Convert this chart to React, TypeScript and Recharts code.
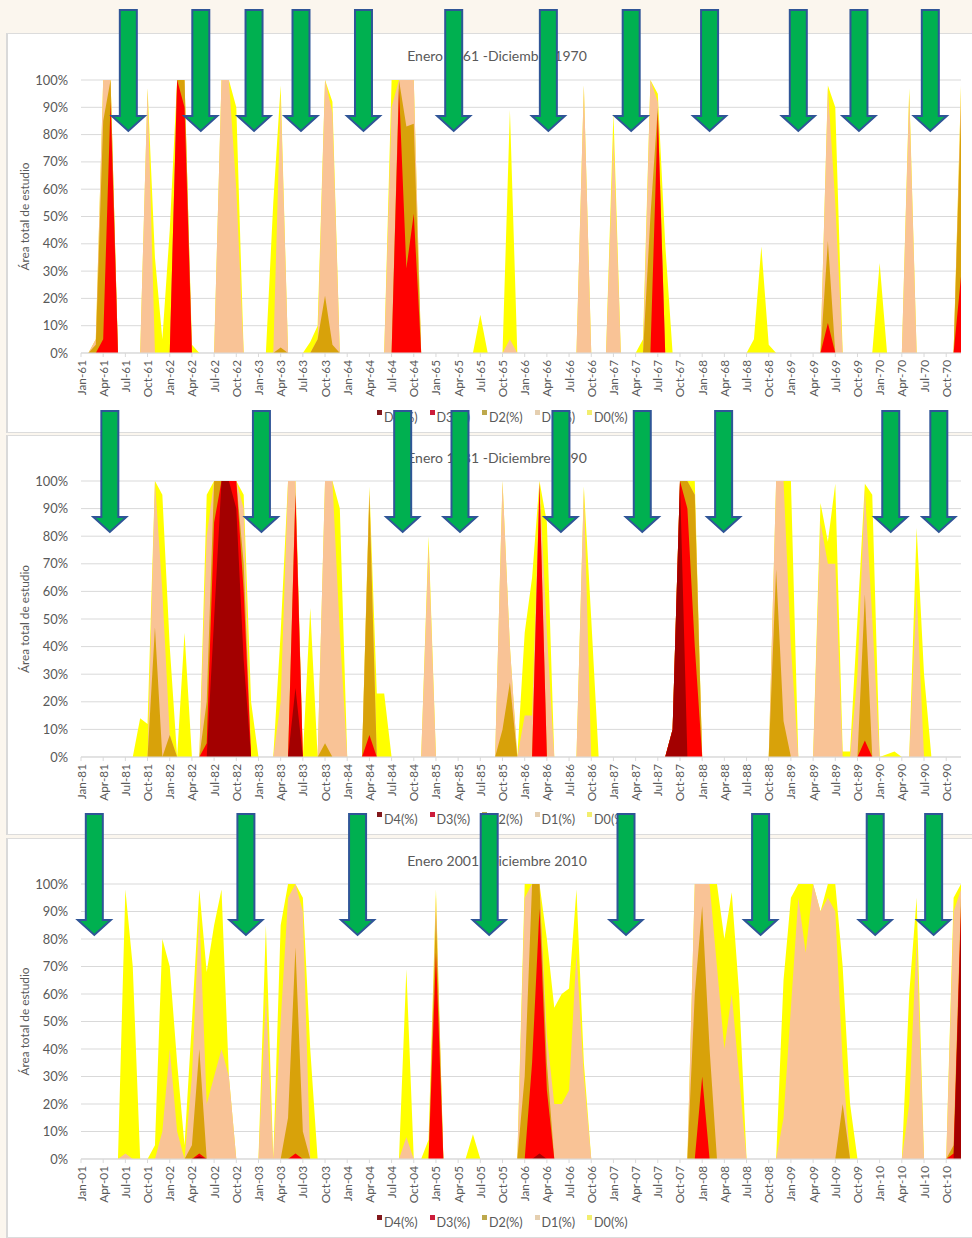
import React from "react";
import { AreaChart, Area, XAxis, YAxis, CartesianGrid, ReferenceDot } from "recharts";

const MONTHS = ["Jan", "Feb", "Mar", "Apr", "May", "Jun", "Jul", "Aug", "Sep", "Oct", "Nov", "Dec"];
const Y_TICKS = [0, 10, 20, 30, 40, 50, 60, 70, 80, 90, 100];

// % del área total en cada categoría o peor (una fila por año, Jan..Dec)

// 1961-1970
const P1_D0 = [
  0, 0, 5, 100, 100, 0, 0, 0, 0, 97, 35, 5,
  45, 100, 100, 3, 0, 0, 0, 100, 100, 90, 0, 0,
  0, 0, 55, 98, 0, 0, 0, 4, 10, 100, 92, 0,
  0, 0, 0, 0, 0, 0, 100, 100, 100, 100, 0, 0,
  0, 0, 0, 0, 0, 0, 14, 0, 0, 0, 89, 0,
  0, 0, 0, 0, 0, 0, 0, 0, 98, 0, 0, 0,
  88, 0, 0, 0, 5, 100, 95, 40, 0, 0, 0, 0,
  0, 0, 0, 0, 0, 0, 0, 5, 39, 3, 0, 0,
  0, 0, 0, 0, 0, 98, 90, 0, 0, 0, 0, 0,
  33, 0, 0, 0, 97, 0, 0, 0, 0, 0, 0, 98,
];
const P1_D1 = [
  0, 0, 5, 100, 100, 0, 0, 0, 0, 97, 0, 0,
  0, 100, 100, 0, 0, 0, 0, 100, 100, 60, 0, 0,
  0, 0, 0, 95, 0, 0, 0, 0, 5, 100, 88, 0,
  0, 0, 0, 0, 0, 0, 90, 100, 100, 100, 0, 0,
  0, 0, 0, 0, 0, 0, 0, 0, 0, 0, 5, 0,
  0, 0, 0, 0, 0, 0, 0, 0, 98, 0, 0, 0,
  80, 0, 0, 0, 0, 100, 92, 0, 0, 0, 0, 0,
  0, 0, 0, 0, 0, 0, 0, 0, 0, 0, 0, 0,
  0, 0, 0, 0, 0, 97, 55, 0, 0, 0, 0, 0,
  0, 0, 0, 0, 95, 0, 0, 0, 0, 0, 0, 97,
];
const P1_D2 = [
  0, 0, 3, 85, 100, 0, 0, 0, 0, 0, 0, 0,
  0, 100, 100, 0, 0, 0, 0, 0, 0, 0, 0, 0,
  0, 0, 0, 2, 0, 0, 0, 0, 5, 21, 3, 0,
  0, 0, 0, 0, 0, 0, 0, 100, 83, 84, 0, 0,
  0, 0, 0, 0, 0, 0, 0, 0, 0, 0, 0, 0,
  0, 0, 0, 0, 0, 0, 0, 0, 0, 0, 0, 0,
  0, 0, 0, 0, 0, 50, 90, 0, 0, 0, 0, 0,
  0, 0, 0, 0, 0, 0, 0, 0, 0, 0, 0, 0,
  0, 0, 0, 0, 0, 41, 0, 0, 0, 0, 0, 0,
  0, 0, 0, 0, 0, 0, 0, 0, 0, 0, 0, 90,
];
const P1_D3 = [
  0, 0, 0, 5, 92, 0, 0, 0, 0, 0, 0, 0,
  0, 100, 90, 0, 0, 0, 0, 0, 0, 0, 0, 0,
  0, 0, 0, 0, 0, 0, 0, 0, 0, 0, 0, 0,
  0, 0, 0, 0, 0, 0, 0, 97, 31, 51, 0, 0,
  0, 0, 0, 0, 0, 0, 0, 0, 0, 0, 0, 0,
  0, 0, 0, 0, 0, 0, 0, 0, 0, 0, 0, 0,
  0, 0, 0, 0, 0, 0, 88, 0, 0, 0, 0, 0,
  0, 0, 0, 0, 0, 0, 0, 0, 0, 0, 0, 0,
  0, 0, 0, 0, 0, 11, 0, 0, 0, 0, 0, 0,
  0, 0, 0, 0, 0, 0, 0, 0, 0, 0, 0, 28,
];
const P1_D4 = [
  0, 0, 0, 0, 0, 0, 0, 0, 0, 0, 0, 0,
  0, 0, 0, 0, 0, 0, 0, 0, 0, 0, 0, 0,
  0, 0, 0, 0, 0, 0, 0, 0, 0, 0, 0, 0,
  0, 0, 0, 0, 0, 0, 0, 0, 0, 0, 0, 0,
  0, 0, 0, 0, 0, 0, 0, 0, 0, 0, 0, 0,
  0, 0, 0, 0, 0, 0, 0, 0, 0, 0, 0, 0,
  0, 0, 0, 0, 0, 0, 0, 0, 0, 0, 0, 0,
  0, 0, 0, 0, 0, 0, 0, 0, 0, 0, 0, 0,
  0, 0, 0, 0, 0, 0, 0, 0, 0, 0, 0, 0,
  0, 0, 0, 0, 0, 0, 0, 0, 0, 0, 0, 0,
];

// 1981-1990
const P2_D0 = [
  0, 0, 0, 0, 0, 0, 0, 0, 14, 12, 100, 95,
  40, 0, 45, 0, 0, 95, 100, 100, 100, 100, 95, 20,
  0, 0, 0, 45, 100, 100, 0, 54, 0, 100, 100, 90,
  0, 0, 0, 98, 23, 23, 0, 0, 0, 0, 0, 80,
  0, 0, 0, 0, 0, 0, 0, 0, 0, 100, 40, 0,
  45, 65, 100, 85, 0, 0, 0, 0, 98, 50, 0, 0,
  0, 0, 0, 0, 0, 0, 0, 0, 10, 100, 100, 100,
  0, 0, 0, 0, 0, 0, 0, 0, 0, 0, 100, 100,
  100, 0, 0, 0, 92, 78, 99, 2, 2, 50, 99, 95,
  0, 1, 2, 0, 0, 83, 30, 0, 0, 0, 0, 0,
];
const P2_D1 = [
  0, 0, 0, 0, 0, 0, 0, 0, 0, 0, 100, 60,
  8, 0, 0, 0, 0, 80, 100, 100, 100, 100, 90, 0,
  0, 0, 0, 20, 100, 100, 0, 0, 0, 100, 100, 45,
  0, 0, 0, 97, 0, 0, 0, 0, 0, 0, 0, 77,
  0, 0, 0, 0, 0, 0, 0, 0, 0, 100, 40, 0,
  15, 15, 100, 45, 0, 0, 0, 0, 97, 0, 0, 0,
  0, 0, 0, 0, 0, 0, 0, 0, 10, 100, 100, 95,
  0, 0, 0, 0, 0, 0, 0, 0, 0, 0, 100, 100,
  40, 0, 0, 0, 85, 70, 70, 0, 0, 30, 97, 50,
  0, 0, 0, 0, 0, 60, 0, 0, 0, 0, 0, 0,
];
const P2_D2 = [
  0, 0, 0, 0, 0, 0, 0, 0, 0, 0, 47, 0,
  8, 0, 0, 0, 0, 20, 100, 100, 100, 100, 70, 0,
  0, 0, 0, 0, 0, 96, 0, 0, 0, 5, 0, 0,
  0, 0, 0, 95, 0, 0, 0, 0, 0, 0, 0, 0,
  0, 0, 0, 0, 0, 0, 0, 0, 0, 10, 27, 0,
  0, 0, 99, 0, 0, 0, 0, 0, 0, 0, 0, 0,
  0, 0, 0, 0, 0, 0, 0, 0, 10, 100, 100, 95,
  0, 0, 0, 0, 0, 0, 0, 0, 0, 0, 68, 13,
  0, 0, 0, 0, 0, 0, 0, 0, 0, 0, 59, 0,
  0, 0, 0, 0, 0, 0, 0, 0, 0, 0, 0, 0,
];
const P2_D3 = [
  0, 0, 0, 0, 0, 0, 0, 0, 0, 0, 0, 0,
  0, 0, 0, 0, 0, 5, 85, 100, 100, 100, 60, 0,
  0, 0, 0, 0, 0, 95, 0, 0, 0, 0, 0, 0,
  0, 0, 0, 8, 0, 0, 0, 0, 0, 0, 0, 0,
  0, 0, 0, 0, 0, 0, 0, 0, 0, 0, 0, 0,
  0, 0, 99, 0, 0, 0, 0, 0, 0, 0, 0, 0,
  0, 0, 0, 0, 0, 0, 0, 0, 10, 100, 90, 40,
  0, 0, 0, 0, 0, 0, 0, 0, 0, 0, 0, 0,
  0, 0, 0, 0, 0, 0, 0, 0, 0, 0, 6, 0,
  0, 0, 0, 0, 0, 0, 0, 0, 0, 0, 0, 0,
];
const P2_D4 = [
  0, 0, 0, 0, 0, 0, 0, 0, 0, 0, 0, 0,
  0, 0, 0, 0, 0, 0, 50, 100, 100, 90, 35, 0,
  0, 0, 0, 0, 0, 25, 0, 0, 0, 0, 0, 0,
  0, 0, 0, 0, 0, 0, 0, 0, 0, 0, 0, 0,
  0, 0, 0, 0, 0, 0, 0, 0, 0, 0, 0, 0,
  0, 0, 0, 0, 0, 0, 0, 0, 0, 0, 0, 0,
  0, 0, 0, 0, 0, 0, 0, 0, 10, 100, 0, 0,
  0, 0, 0, 0, 0, 0, 0, 0, 0, 0, 0, 0,
  0, 0, 0, 0, 0, 0, 0, 0, 0, 0, 0, 0,
  0, 0, 0, 0, 0, 0, 0, 0, 0, 0, 0, 0,
];

// 2001-2010
const P3_D0 = [
  0, 0, 0, 0, 0, 0, 98, 70, 0, 0, 5, 80,
  70, 35, 5, 50, 98, 68, 85, 98, 30, 0, 0, 0,
  0, 85, 0, 85, 100, 100, 95, 40, 0, 0, 0, 0,
  0, 0, 0, 0, 0, 0, 0, 0, 69, 0, 0, 7,
  98, 0, 0, 0, 0, 9, 0, 0, 0, 0, 0, 0,
  100, 100, 100, 80, 55, 60, 62, 98, 35, 0, 0, 0,
  0, 0, 0, 0, 0, 0, 0, 0, 0, 0, 0, 100,
  100, 100, 100, 80, 97, 60, 0, 0, 0, 0, 0, 65,
  95, 100, 100, 100, 90, 100, 100, 70, 20, 0, 0, 0,
  0, 0, 0, 0, 60, 95, 0, 0, 0, 0, 95, 100,
];
const P3_D1 = [
  0, 0, 0, 0, 0, 0, 2, 0, 0, 0, 0, 10,
  40, 10, 0, 30, 90, 20, 30, 40, 30, 0, 0, 0,
  0, 60, 0, 50, 95, 100, 90, 0, 0, 0, 0, 0,
  0, 0, 0, 0, 0, 0, 0, 0, 8, 0, 0, 0,
  96, 0, 0, 0, 0, 0, 0, 0, 0, 0, 0, 0,
  95, 100, 100, 45, 20, 20, 25, 75, 30, 0, 0, 0,
  0, 0, 0, 0, 0, 0, 0, 0, 0, 0, 0, 100,
  100, 100, 70, 40, 60, 30, 0, 0, 0, 0, 0, 15,
  55, 95, 75, 100, 90, 95, 90, 35, 0, 0, 0, 0,
  0, 0, 0, 0, 20, 80, 0, 0, 0, 0, 90, 98,
];
const P3_D2 = [
  0, 0, 0, 0, 0, 0, 0, 0, 0, 0, 0, 0,
  0, 0, 0, 5, 40, 0, 0, 0, 0, 0, 0, 0,
  0, 0, 0, 0, 15, 77, 10, 0, 0, 0, 0, 0,
  0, 0, 0, 0, 0, 0, 0, 0, 0, 0, 0, 0,
  90, 0, 0, 0, 0, 0, 0, 0, 0, 0, 0, 0,
  30, 100, 100, 35, 0, 0, 0, 0, 0, 0, 0, 0,
  0, 0, 0, 0, 0, 0, 0, 0, 0, 0, 0, 60,
  92, 40, 0, 0, 0, 0, 0, 0, 0, 0, 0, 0,
  0, 0, 0, 0, 0, 0, 0, 20, 0, 0, 0, 0,
  0, 0, 0, 0, 0, 0, 0, 0, 0, 0, 5, 95,
];
const P3_D3 = [
  0, 0, 0, 0, 0, 0, 0, 0, 0, 0, 0, 0,
  0, 0, 0, 0, 2, 0, 0, 0, 0, 0, 0, 0,
  0, 0, 0, 0, 0, 2, 0, 0, 0, 0, 0, 0,
  0, 0, 0, 0, 0, 0, 0, 0, 0, 0, 0, 0,
  75, 0, 0, 0, 0, 0, 0, 0, 0, 0, 0, 0,
  0, 35, 91, 25, 0, 0, 0, 0, 0, 0, 0, 0,
  0, 0, 0, 0, 0, 0, 0, 0, 0, 0, 0, 0,
  30, 0, 0, 0, 0, 0, 0, 0, 0, 0, 0, 0,
  0, 0, 0, 0, 0, 0, 0, 0, 0, 0, 0, 0,
  0, 0, 0, 0, 0, 0, 0, 0, 0, 0, 2, 92,
];
const P3_D4 = [
  0, 0, 0, 0, 0, 0, 0, 0, 0, 0, 0, 0,
  0, 0, 0, 0, 1, 0, 0, 0, 0, 0, 0, 0,
  0, 0, 0, 0, 0, 0, 0, 0, 0, 0, 0, 0,
  0, 0, 0, 0, 0, 0, 0, 0, 0, 0, 0, 0,
  0, 0, 0, 0, 0, 0, 0, 0, 0, 0, 0, 0,
  0, 0, 2, 0, 0, 0, 0, 0, 0, 0, 0, 0,
  0, 0, 0, 0, 0, 0, 0, 0, 0, 0, 0, 0,
  0, 0, 0, 0, 0, 0, 0, 0, 0, 0, 0, 0,
  0, 0, 0, 0, 0, 0, 0, 0, 0, 0, 0, 0,
  0, 0, 0, 0, 0, 0, 0, 0, 0, 0, 0, 88,
];

// posiciones de las flechas, en meses desde el inicio del periodo
const P1_ARROWS = [6.4, 16.2, 23.4, 29.75, 38.2, 50.4, 63.2, 74.4, 85.0, 97.0, 105.2, 114.85];
const P2_ARROWS = [3.9, 24.4, 43.5, 51.25, 64.9, 75.9, 86.9, 109.5, 116.0];
const P3_ARROWS = [1.8, 22.3, 37.4, 55.2, 73.7, 91.9, 107.4, 115.3];

const SERIES = [
  { key: "d0", name: "D0(%)", fill: "#ffff00", swatch: "#f2ee6e" },
  { key: "d1", name: "D1(%)", fill: "#f9c396", swatch: "#e5cfb0" },
  { key: "d2", name: "D2(%)", fill: "#d8a20a", swatch: "#bda84c" },
  { key: "d3", name: "D3(%)", fill: "#ff0000", swatch: "#cc1c3a" },
  { key: "d4", name: "D4(%)", fill: "#a30000", swatch: "#82181c" },
];
const LEGEND_ORDER = ["d4", "d3", "d2", "d1", "d0"];

const PANELS = [
  { title: "Enero 1961 -Diciembre 1970", from: 1961, top: 33, plotTop: 80, plotBottom: 353, data: [P1_D0, P1_D1, P1_D2, P1_D3, P1_D4], arrows: P1_ARROWS },
  { title: "Enero 1981 -Diciembre 1990", from: 1981, top: 435, plotTop: 481, plotBottom: 757, data: [P2_D0, P2_D1, P2_D2, P2_D3, P2_D4], arrows: P2_ARROWS },
  { title: "Enero 2001 -Diciembre 2010", from: 2001, top: 838, plotTop: 884, plotBottom: 1159, data: [P3_D0, P3_D1, P3_D2, P3_D3, P3_D4], arrows: P3_ARROWS },
];

const W = 972;
const H = 400;
const TEXT = "#595959";

function monthLabels(from: number) {
  const out: string[] = [];
  for (let y = 0; y < 10; y++) {
    const yy = String((from + y) % 100).padStart(2, "0");
    MONTHS.forEach((m) => out.push(`${m}-${yy}`));
  }
  return out;
}

function Arrow(props: any) {
  const { cx, cy } = props;
  const w = 8.5;
  const hw = 16.5;
  const top = cy - 70;
  const neck = cy + 36;
  const tip = cy + 51;
  const d = `M${cx - w},${top}H${cx + w}V${neck}H${cx + hw}L${cx},${tip}L${cx - hw},${neck}H${cx - w}Z`;
  return <path d={d} fill="#00b050" stroke="#2f5597" strokeWidth={2} />;
}

function Chart({ p }: { p: (typeof PANELS)[number] }) {
  const labels = monthLabels(p.from);
  const rows = labels.map((label, i) => ({
    i,
    label,
    d0: p.data[0][i],
    d1: p.data[1][i],
    d2: p.data[2][i],
    d3: p.data[3][i],
    d4: p.data[4][i],
  }));
  const ticks = rows.filter((r) => r.i % 3 === 0).map((r) => r.i);
  const labelY = (p.plotTop + p.plotBottom) / 2 - p.top;

  return (
    <div style={{ position: "absolute", left: 0, top: p.top }}>
      <AreaChart width={W} height={H} data={rows} margin={{ top: p.plotTop - p.top, right: 11, left: 0, bottom: 0 }}>
        <CartesianGrid vertical={false} stroke="#d9d9d9" />
        <XAxis
          type="number"
          dataKey="i"
          domain={[0, 119]}
          ticks={ticks}
          interval={0}
          height={H - (p.plotBottom - p.top)}
          stroke="#d9d9d9"
          tickSize={4}
          tickMargin={3}
          tick={(t: any) => (
            <text
              x={t.x}
              y={t.y}
              transform={`rotate(-90 ${t.x} ${t.y})`}
              textAnchor="end"
              dominantBaseline="central"
              fontSize={11.8}
              fill={TEXT}
            >
              {labels[t.payload.value]}
            </text>
          )}
        />
        <YAxis
          domain={[0, 100]}
          ticks={Y_TICKS}
          width={81}
          axisLine={false}
          tickLine={false}
          tickSize={0}
          tickMargin={13}
          tick={{ fill: TEXT, fontSize: 12.9 }}
          tickFormatter={(v: number) => `${v}%`}
          label={() => (
            <text
              x={24}
              y={labelY}
              transform={`rotate(-90 24 ${labelY})`}
              textAnchor="middle"
              dominantBaseline="central"
              fontSize={11.8}
              fill={TEXT}
            >
              Área total de estudio
            </text>
          )}
        />
        {SERIES.map((s) => (
          <Area
            key={s.key}
            type="linear"
            dataKey={s.key}
            name={s.name}
            fill={s.fill}
            fillOpacity={1}
            stroke="none"
            isAnimationActive={false}
          />
        ))}
        {p.arrows.map((a, k) => (
          <ReferenceDot key={k} x={a} y={100} r={0} shape={(props: any) => <Arrow {...props} />} />
        ))}
      </AreaChart>
    </div>
  );
}

function Frame({ p }: { p: (typeof PANELS)[number] }) {
  const legendY = p.top + 385;
  return (
    <>
      <div
        style={{
          position: "absolute",
          left: 6,
          top: p.top,
          width: W,
          height: H,
          background: "#ffffff",
          borderLeft: "2px solid #d9d9d9",
          borderTop: "1px solid #dcdcdc",
          borderBottom: "1px solid #dcdcdc",
          boxSizing: "border-box",
        }}
      />
      <div
        style={{
          position: "absolute",
          left: 497,
          top: p.top + 22,
          transform: "translate(-50%, -50%)",
          fontSize: 14,
          color: TEXT,
          whiteSpace: "nowrap",
        }}
      >
        {p.title}
      </div>
      {LEGEND_ORDER.map((key, k) => {
        const s = SERIES.find((x) => x.key === key)!;
        return (
          <div key={key} style={{ position: "absolute", left: 377 + k * 52.5, top: legendY - 8, height: 16 }}>
            <span style={{ position: "absolute", left: 0, top: 0, width: 5, height: 5, background: s.swatch }} />
            <span style={{ position: "absolute", left: 7, top: 0, lineHeight: "16px", fontSize: 12.6, color: TEXT, whiteSpace: "nowrap" }}>
              {s.name}
            </span>
          </div>
        );
      })}
    </>
  );
}

export default function App() {
  return (
    <div
      style={{
        position: "relative",
        width: W,
        height: 1238,
        background: "#fbf6ee",
        overflow: "hidden",
        fontFamily: "Lato, 'Open Sans', sans-serif",
      }}
    >
      <style>{`body{margin:0} .recharts-surface{overflow:visible}`}</style>
      {PANELS.map((p) => (
        <Frame key={p.title} p={p} />
      ))}
      {PANELS.map((p) => (
        <Chart key={p.title} p={p} />
      ))}
    </div>
  );
}
